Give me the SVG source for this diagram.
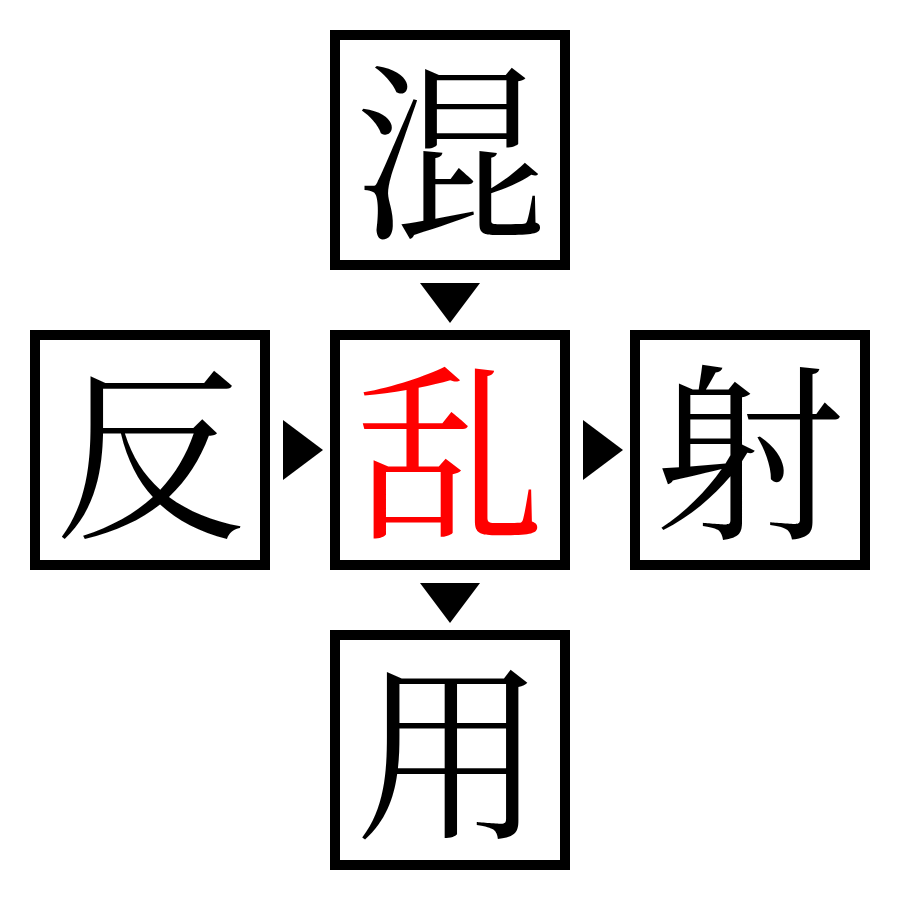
<svg xmlns="http://www.w3.org/2000/svg" width="900" height="900" viewBox="0 0 900 900">
<style>
.box{fill:#fff;stroke:#000;stroke-width:10}
.ch{font-family:"Noto Serif CJK JP","Noto Sans CJK JP","Noto Sans CJK SC",serif;font-size:190px;text-anchor:middle;dominant-baseline:central;fill:#000}
.red{fill:#ff0000}
.arr{fill:#000}
</style>
<rect width="900" height="900" fill="#fff"/>
<g id="node-top"><rect class="box" x="335" y="35" width="230" height="230"/><text class="ch" x="450" y="141">混</text></g>
<g id="node-left"><rect class="box" x="35" y="335" width="230" height="230"/><text class="ch" x="150" y="441">反</text></g>
<g id="node-center"><rect class="box" x="335" y="335" width="230" height="230"/><text class="ch red" x="450" y="441">乱</text></g>
<g id="node-right"><rect class="box" x="635" y="335" width="230" height="230"/><text class="ch" x="750" y="441">射</text></g>
<g id="node-bottom"><rect class="box" x="335" y="635" width="230" height="230"/><text class="ch" x="450" y="741">用</text></g>
<g id="connectors">
<polygon class="arr" points="420,283 480,283 450,323"/>
<polygon class="arr" points="283,420 283,480 323,450"/>
<polygon class="arr" points="583,420 583,480 623,450"/>
<polygon class="arr" points="420,583 480,583 450,623"/>
</g>
</svg>
